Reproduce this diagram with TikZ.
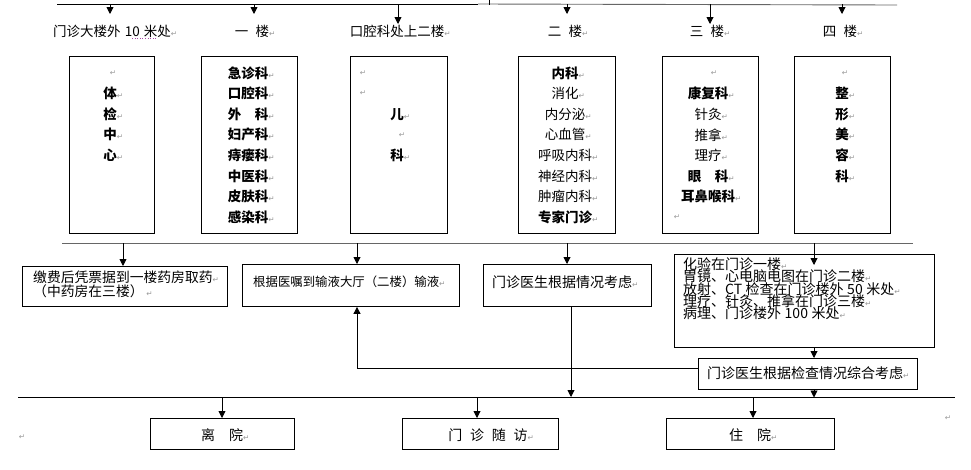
\documentclass[tikz,border=0pt]{standalone}
\usepackage{fontspec}
\setmainfont{Noto Sans CJK SC}
\newfontfamily\dejavu{DejaVu Sans}
\usetikzlibrary{arrows.meta}
\newcommand\pmk{{\dejavu\fontsize{7.5}{8}\selectfont\mdseries\textcolor{black!40}{↵}}}
\newcommand\pmr{\rlap{\pmk}}
\begin{document}
\begin{tikzpicture}[x=1pt,y=-1pt,
  box/.style={draw, line width=0.9pt, fill=white, inner sep=0, anchor=north west},
  txt/.style={inner sep=0, font=\fontsize{13.5}{16}\selectfont},
  btxt/.style={inner sep=0, font=\fontsize{13.5}{16}\selectfont\bfseries},
  ltxt/.style={inner sep=0, anchor=west, font=\fontsize{14}{16}\selectfont},
  mk/.style={inner sep=0},
  arr/.style={-{Triangle[length=7pt,width=7pt]}, line width=0.9pt},
  ln/.style={line width=0.9pt},
  gln/.style={line width=0.9pt, black!60}]
\useasboundingbox (0,0) rectangle (971,469);

% ---------- top line ----------
\coordinate (t0) at (57,4);
\coordinate (tm) at (478,4);
\coordinate (t1) at (897,5);
\coordinate (tin) at (489,0);
\draw[ln] (t0) -- (tm);
\draw[gln] (tm) -- (t1);
\draw[ln] (tin) -- (489,5);

% ---------- floor labels ----------
\node[txt] (l1) at (112,31) {门诊大楼外\hspace{0.3em}10\hspace{0.3em}米处\pmr};
\node[txt] (l2) at (252,31) {一\hspace{0.55em}楼\pmr};
\node[txt] (l3) at (397,31) {口腔科处上二楼\pmr};
\node[txt] (l4) at (565,31) {二\hspace{0.55em}楼\pmr};
\node[txt] (l5) at (707,31) {三\hspace{0.55em}楼\pmr};
\node[txt] (l6) at (840,31) {四\hspace{0.55em}楼\pmr};
\coordinate (u1) at (132,38);
\coordinate (u2) at (157,38);
\draw[dotted, violet!70, line width=0.6pt] (u1) -- (u2);

\foreach \x/\n in {110/1,254/2,567/4,842/6}{
  \coordinate (ta\n) at (\x,4);
  \coordinate (tb\n) at (\x,14);
  \draw[arr] (ta\n) -- (tb\n);
}
\foreach \x/\n in {398/3,710/5}{
  \coordinate (ta\n) at (\x,4);
  \coordinate (tb\n) at (\x,24);
  \draw[arr] (ta\n) -- (tb\n);
}

% ---------- first row boxes ----------
\node[box, minimum width=85pt, minimum height=177pt] (b1) at (69,56) {};
\node[box, minimum width=96pt, minimum height=177pt] (b2) at (201,56) {};
\node[box, minimum width=97pt, minimum height=177pt] (b3) at (350,56) {};
\node[box, minimum width=97pt, minimum height=177pt] (b4) at (518,56) {};
\node[box, minimum width=96pt, minimum height=177pt] (b5) at (662,56) {};
\node[box, minimum width=96pt, minimum height=177pt] (b6) at (794,56) {};

% box 1
\node[mk] (b1-0) at (113,73) {\pmk};
\foreach \t [count=\i] in {体,检,中,心}
  \node[btxt] (b1-\i) at (110,{73+20.6*\i}) {\t\pmr};
% box 2
\foreach \t [count=\i] in {急诊科,口腔科,外\hspace{1em}科,妇产科,痔瘘科,中医科,皮肤科,感染科}
  \node[btxt] (b2-\i) at (248,{73+20.6*(\i-1)}) {\t\pmr};
% box 3
\node[mk] (b3-1) at (363,73) {\pmk};
\node[mk] (b3-2) at (363,93.6) {\pmk};
\node[btxt] (b3-3) at (397,114.2) {儿\pmr};
\node[mk] (b3-4) at (402,134.8) {\pmk};
\node[btxt] (b3-5) at (397,155.4) {科\pmr};
% box 4
\foreach \t [count=\i] in {{\bfseries 内科},消化,内分泌,心血管,呼吸内科,神经内科,肿瘤内科,{\bfseries 专家门诊}}
  \node[txt] (b4-\i) at (565,{73+20.6*(\i-1)}) {\t\pmr};
% box 5
\node[mk] (b5-0) at (714,73) {\pmk};
\foreach \t [count=\i] in {{\bfseries 康复科},针灸,推拿,理疗,{\bfseries 眼\hspace{1em}科},{\bfseries 耳鼻喉科}}
  \node[txt] (b5-\i) at (708,{73+20.6*\i}) {\t\pmr};
\node[mk] (b5-7) at (677,217) {\pmk};
% box 6
\node[mk] (b6-0) at (845,73) {\pmk};
\foreach \t [count=\i] in {整,形,美,容,科}
  \node[btxt] (b6-\i) at (842,{73+20.6*\i}) {\t\pmr};

% ---------- second line ----------
\coordinate (m0) at (62,243);
\coordinate (m1) at (913,243);
\draw[gln] (m0) -- (m1);

% ---------- second row boxes ----------
\node[box, minimum width=205pt, minimum height=40pt] (b7) at (22,266) {};
\node[box, minimum width=217pt, minimum height=42pt] (b8) at (242,264) {};
\node[box, minimum width=168pt, minimum height=42pt] (b9) at (483,264) {};
\node[box, minimum width=260pt, minimum height=93pt] (b10) at (674,254) {};
\node[box, minimum width=219pt, minimum height=31pt] (b11) at (698,358) {};

\node[ltxt, font=\fontsize{13.8}{14}\selectfont] (b7-1) at (33,277) {缴费后凭票据到一楼药房取药\pmk};
\node[ltxt, font=\fontsize{13.8}{14}\selectfont] (b7-2) at (33,291.2) {（中药房在三楼）\hspace{0.2em}\pmk};
\node[ltxt, font=\fontsize{12.4}{14}\selectfont] (b8-1) at (253,282) {根据医嘱到输液大厅（二楼）输液\pmk};
\node[ltxt] (b9-1) at (492,282) {门诊医生根据情况考虑\pmk};
\foreach \t [count=\i] in {化验在门诊一楼,胃镜、心电脑电图在门诊二楼,放射、CT\hspace{0.25em}检查在门诊楼外\hspace{0.25em}50\hspace{0.25em}米处,理疗、针灸、推拿在门诊三楼,病理、门诊楼外\hspace{0.25em}100\hspace{0.25em}米处}
  \node[ltxt] (b10-\i) at (683,{264+12.4*(\i-1)}) {\t\pmk};
\node[ltxt] (b11-1) at (707,373) {门诊医生根据检查情况综合考虑\pmk};

% arrows from second line
\coordinate (ma7) at (123,243);
\coordinate (ma8) at (357,243);
\coordinate (ma9) at (567,243);
\coordinate (ma10) at (814,243);
\draw[arr] (ma7) -- (ma7 |- b7.north);
\draw[arr] (ma8) -- (ma8 |- b8.north);
\draw[arr] (ma9) -- (ma9 |- b9.north);
\draw[arr] (ma10) -- (814,265);

% ---------- third line ----------
\coordinate (n0) at (18,397);
\coordinate (n1) at (955,397);
\draw[ln] (n0) -- (n1);

% b10 -> b11
\coordinate (c10) at (814,347);
\draw[arr] (c10) -- (c10 |- b11.north);
% b11 -> b8 (feedback)
\coordinate (fb) at (698,368);
\coordinate (fc) at (357,368);
\draw[arr] (fb) -- (fc) -- (fc |- b8.south);
% b9 -> third line
\coordinate (c9) at (571,306);
\draw[arr] (c9) -- (571,397);
% b11 -> third line
\coordinate (c11) at (814,389);
\draw[arr] (c11) -- (814,397.5);

% ---------- bottom boxes ----------
\node[box, minimum width=144pt, minimum height=31pt] (b12) at (150,418) {};
\node[box, minimum width=156pt, minimum height=31pt] (b13) at (402,418) {};
\node[box, minimum width=168pt, minimum height=31pt] (b14) at (666,418) {};
\node[txt, font=\fontsize{14}{16}\selectfont] (b12-1) at (222,435) {离\hspace{1em}院\pmr};
\node[txt, font=\fontsize{14}{16}\selectfont] (b13-1) at (488,435) {门\hspace{0.55em}诊\hspace{0.55em}随\hspace{0.55em}访\pmr};
\node[txt, font=\fontsize{14}{16}\selectfont] (b14-1) at (750,435) {住\hspace{1em}院\pmr};

\coordinate (na12) at (222,397);
\coordinate (na13) at (477,397);
\coordinate (na14) at (753,397);
\draw[arr] (na12) -- (na12 |- b12.north);
\draw[arr] (na13) -- (na13 |- b13.north);
\draw[arr] (na14) -- (na14 |- b14.north);

\node[mk] (s1) at (22,437) {\pmk};
\node[mk] (s2) at (948,418) {\pmk};
\end{tikzpicture}
\end{document}
